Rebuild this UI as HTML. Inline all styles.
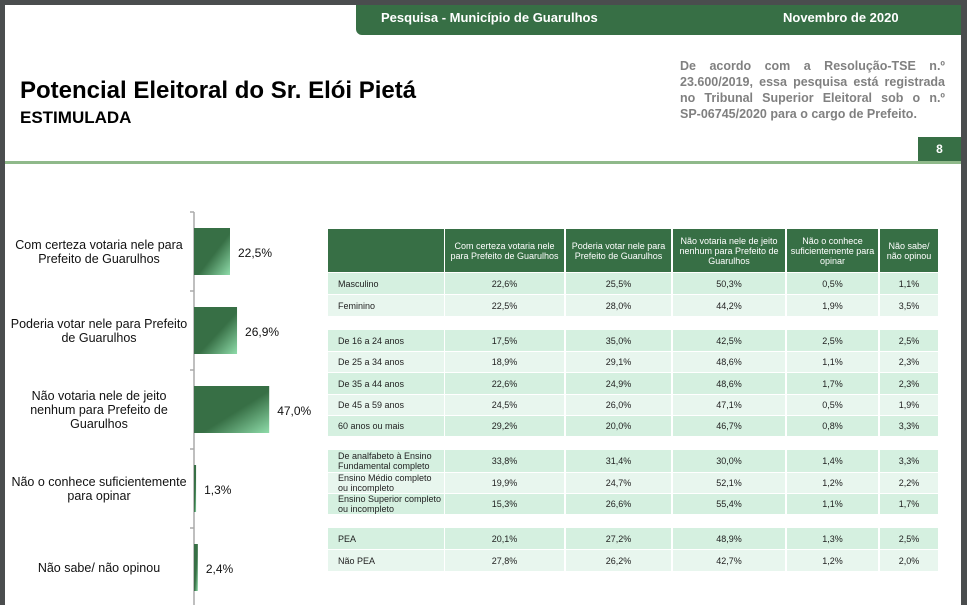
<!DOCTYPE html>
<html><head><meta charset="utf-8">
<style>
body{margin:0;width:967px;height:605px;position:relative;overflow:hidden;background:#fff;font-family:"Liberation Sans",sans-serif}
.a{position:absolute}
.hd{color:#fff;font-weight:bold;font-size:13px}
.nl{text-align:justify;text-align-last:justify;height:16px}
#tbl div{position:absolute;box-sizing:border-box;font-size:9px;color:#222;display:flex;align-items:center}
</style></head><body>
<div class="a" style="left:0;top:0;width:967px;height:5px;background:#4a4d4e"></div>
<div class="a" style="left:0;top:0;width:5px;height:605px;background:#4a4d4e"></div>
<div class="a" style="left:961px;top:0;width:6px;height:605px;background:#4a4d4e"></div>
<div class="a" style="left:356px;top:5px;width:605px;height:30px;background:#376f45;border-bottom-left-radius:6px"></div>
<div class="a hd" style="left:381px;top:10px">Pesquisa - Município de Guarulhos</div>
<div class="a hd" style="left:783px;top:10px">Novembro de 2020</div>
<div class="a" style="left:20px;top:77px;font-size:24px;font-weight:bold;color:#000">Potencial Eleitoral do Sr. Elói Pietá</div>
<div class="a" style="left:20px;top:108px;font-size:17px;font-weight:bold;color:#000">ESTIMULADA</div>
<div class="a" style="left:680px;top:58px;width:265px;font-size:12.5px;line-height:16px;font-weight:bold;color:#808080">
<div class="nl">De acordo com a Resolução-TSE n.º</div>
<div class="nl">23.600/2019, essa pesquisa está registrada</div>
<div class="nl">no Tribunal Superior Eleitoral sob o n.º</div>
<div style="height:16px">SP-06745/2020 para o cargo de Prefeito.</div>
</div>
<div class="a" style="left:918px;top:137px;width:43px;height:25px;background:#376f45;color:#fff;font-weight:bold;font-size:12px;text-align:center;line-height:25px">8</div>
<div class="a" style="left:5px;top:161px;width:956px;height:3px;background:#8fb98a"></div>

<svg class="a" id="chart" style="left:0;top:0" width="330" height="605">
<defs><linearGradient id="g" x1="0" y1="0" x2="1" y2="1"><stop offset="0.55" stop-color="#376f45"/><stop offset="1" stop-color="#8fdcaa"/></linearGradient></defs>
</svg>
<div id="tbl"></div>

<script>
const categories=[["Com certeza votaria nele para","Prefeito de Guarulhos"],["Poderia votar nele para Prefeito","de Guarulhos"],["Não votaria nele de jeito","nenhum para Prefeito de","Guarulhos"],["Não o conhece suficientemente","para opinar"],["Não sabe/ não opinou"]];
const values=[22.5,26.9,47.0,1.3,2.4];
const valueLabels=["22,5%","26,9%","47,0%","1,3%","2,4%"];

const colHeaders=[["Com certeza votaria nele","para Prefeito de Guarulhos"],["Poderia votar nele para","Prefeito de Guarulhos"],["Não votaria nele de jeito","nenhum para Prefeito de","Guarulhos"],["Não o conhece","suficientemente para","opinar"],["Não sabe/","não opinou"]];
const rowLabels=[["Masculino"],["Feminino"],null,["De 16 a 24 anos"],["De 25 a 34 anos"],["De 35 a 44 anos"],["De 45 a 59 anos"],["60 anos ou mais"],null,["De analfabeto à Ensino","Fundamental completo"],["Ensino Médio completo","ou incompleto"],["Ensino Superior completo","ou incompleto"],null,[" PEA"],[" Não PEA"]];
const tableValues=[
["22,6%","25,5%","50,3%","0,5%","1,1%"],["22,5%","28,0%","44,2%","1,9%","3,5%"],null,
["17,5%","35,0%","42,5%","2,5%","2,5%"],["18,9%","29,1%","48,6%","1,1%","2,3%"],["22,6%","24,9%","48,6%","1,7%","2,3%"],["24,5%","26,0%","47,1%","0,5%","1,9%"],["29,2%","20,0%","46,7%","0,8%","3,3%"],null,
["33,8%","31,4%","30,0%","1,4%","3,3%"],["19,9%","24,7%","52,1%","1,2%","2,2%"],["15,3%","26,6%","55,4%","1,1%","1,7%"],null,
["20,1%","27,2%","48,9%","1,3%","2,5%"],["27,8%","26,2%","42,7%","1,2%","2,0%"]];

const NS="http://www.w3.org/2000/svg";
const svg=document.getElementById('chart');
const x0=194, pxPer=1.6, top0=212, band=79;
const xs=v=>v*pxPer;
function mk(t,a){const e=document.createElementNS(NS,t);for(const k in a)e.setAttribute(k,a[k]);svg.appendChild(e);return e;}
const ax=mk('line',{x1:x0,y1:top0,x2:x0,y2:605,stroke:'#aaa','stroke-width':1.5});


for(let i=0;i<=categories.length;i++){
 const t=mk('line',{x1:x0-4,y1:top0+i*band,x2:x0,y2:top0+i*band,stroke:'#aaa','stroke-width':1.5});
 
 
}
categories.forEach((c,i)=>{
 const cy=top0+i*band+band/2+0.5;
 const r=mk('rect',{x:x0,y:cy-24,width:Math.max(xs(values[i]),2),height:47,fill:'url(#g)'});
 
 
 const l=mk('text',{x:x0+xs(values[i])+8,y:cy+5,'font-size':12,fill:'#111','font-family':'Liberation Sans'});
 l.textContent=valueLabels[i];
 
 
 const n=c.length;
 c.forEach((line,j)=>{
  const t=mk('text',{x:99,y:cy+4+(j-(n-1)/2)*14,'font-size':12.5,fill:'#111','text-anchor':'middle','font-family':'Liberation Sans'});
  t.textContent=line;
  
  
 });
});

const tbl=document.getElementById('tbl');
const colX=[328,445,566,673,787,880,940];
function cell(x,y,w,h,bg,html,name,center,color,fs){
 const d=document.createElement('div');
 d.style.cssText=`left:${x}px;top:${y}px;width:${w}px;height:${h}px;background:${bg};justify-content:${center?'center':'flex-start'};padding-left:${center?0:10}px;text-align:${center?'center':'left'};line-height:10px;${color?'color:'+color+';':''}${fs?'font-size:'+fs+'px;':''}`;
 d.innerHTML=html;
 
 
 tbl.appendChild(d);
}
cell(328,229,116,43,'#376f45','','header-corner',true);
colHeaders.forEach((h,i)=>cell(colX[i+1],229,colX[i+2]-colX[i+1]-2,43,'#376f45',h.join('<br>'),'column-header',true,'#fff',9));
const rowH=[22,22,13,22,21,22,21,21,13,23,21,21,13,22,22];
let y=273, k=0;
rowLabels.forEach((r,i)=>{
 if(!r){y+=rowH[i];k=0;return;}
 const bg=k%2?'#e8f6ee':'#d5f0e0';k++;
 const h=rowH[i]-1;
 cell(328,y,116,h,bg,r.join('<br>'),'row-label',false,null,null);
 tableValues[i].forEach((v,j)=>cell(colX[j+1],y,colX[j+2]-colX[j+1]-2,h,bg,v,'table-value',true,null,null));
 y+=rowH[i];
});
</script>
</body></html>
